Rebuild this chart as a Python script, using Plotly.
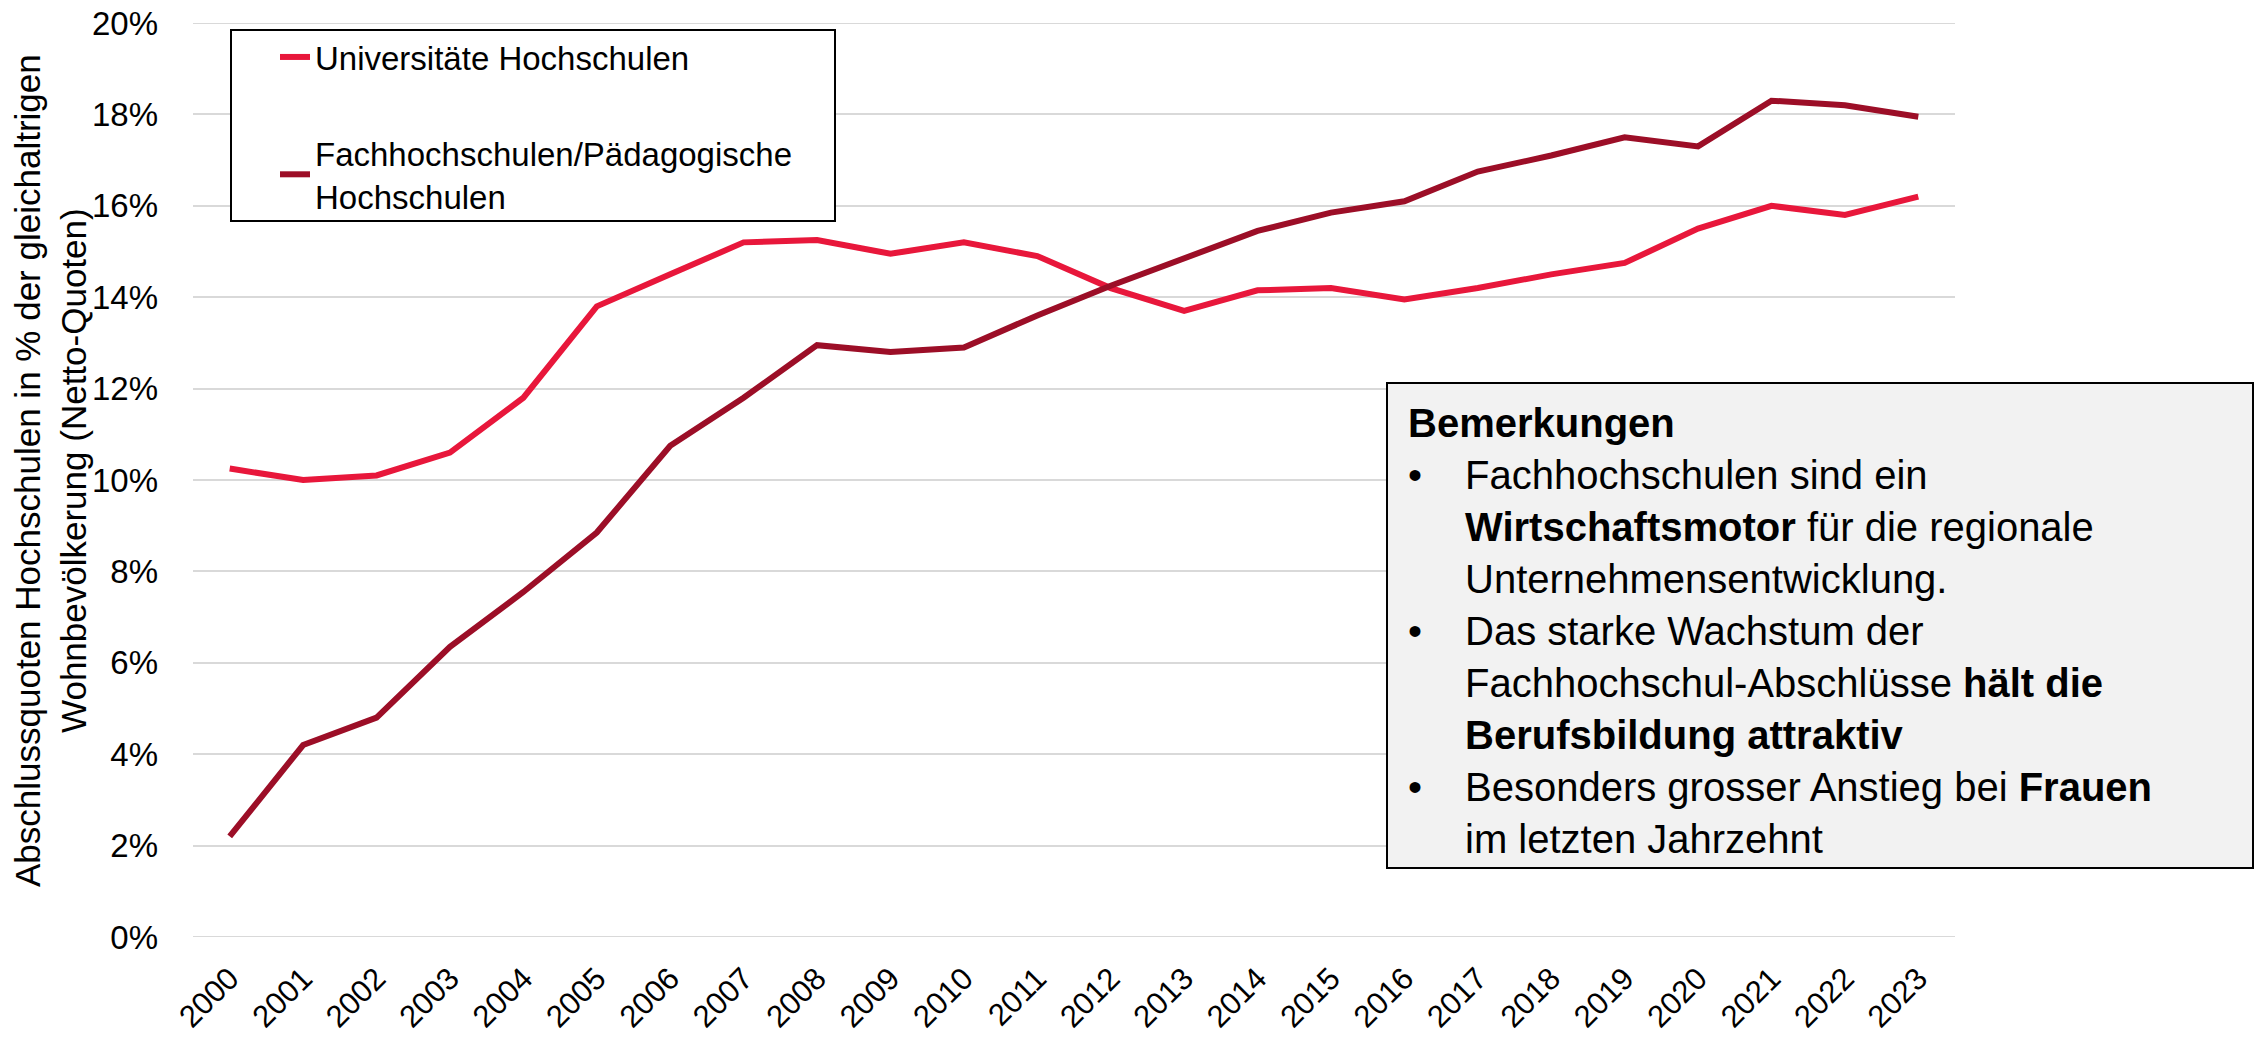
import plotly.graph_objects as go

years = [str(y) for y in range(2000, 2024)]
uni = [10.25, 10.0, 10.1, 10.6, 11.8, 13.8, 14.5, 15.2, 15.25, 14.95, 15.2, 14.9,
       14.2, 13.7, 14.15, 14.2, 13.95, 14.2, 14.5, 14.75, 15.5, 16.0, 15.8, 16.2]
fh = [2.2, 4.2, 4.8, 6.35, 7.55, 8.85, 10.75, 11.8, 12.95, 12.8, 12.9, 13.6,
      14.25, 14.85, 15.45, 15.85, 16.1, 16.75, 17.1, 17.5, 17.3, 18.3, 18.2, 17.95]
series_names = ["Universitäte Hochschulen", "Fachhochschulen/Pädagogische<br>Hochschulen"]
y_title = "Abschlussquoten Hochschulen in % der gleichaltrigen<br>Wohnbevölkerung (Netto-Quoten)"
y_min, y_max = 0.0, 0.2
NB = "\u00a0"
note_lines = [
    NB,
    "Fachhochschulen sind ein",
    "<b>Wirtschaftsmotor</b> für die regionale",
    "Unternehmensentwicklung.",
    "Das starke Wachstum der",
    "Fachhochschul-Abschlüsse <b>hält die</b>",
    "<b>Berufsbildung attraktiv</b>",
    "Besonders grosser Anstieg bei <b>Frauen</b>",
    "im letzten Jahrzehnt",
]
bullet_lines = ["<b>Bemerkungen</b>", "•", NB, NB, "•", NB, NB, "•", NB]

W, H = 2264, 1038
L, R, T, B = 193, 1955, 23, 937


def px(x):
    return (x - L) / (R - L)


def py(y):
    return 1 - (y - T) / (B - T)


FONT = "Liberation Sans, Arial, sans-serif"
GRID = "#d9d9d9"

fig = go.Figure()
fig.add_trace(go.Scatter(x=years, y=[v / 100 for v in uni], mode="lines",
                         name=series_names[0], legendgroup="a",
                         line=dict(color="#e8173b", width=6)))
fig.add_trace(go.Scatter(x=years, y=[v / 100 for v in fh], mode="lines",
                         name=series_names[1], legendgroup="b",
                         line=dict(color="#9c0e27", width=6)))

fig.update_layout(
    width=W, height=H,
    margin=dict(l=L, r=W - R, t=T, b=H - B, pad=0, autoexpand=False),
    paper_bgcolor="white", plot_bgcolor="white",
    font=dict(family=FONT, color="black"),
    showlegend=True,
    legend=dict(x=px(275), y=py(29), xanchor="left", yanchor="top",
                bgcolor="rgba(0,0,0,0)", borderwidth=0,
                font=dict(size=33, family=FONT), tracegroupgap=50,
                traceorder="grouped"),
)
fig.update_xaxes(type="category", range=[-0.5, 23.5], showgrid=False,
                 showline=False, ticks="", tickangle=-45, automargin=False,
                 tickfont=dict(size=31, family=FONT), ticklabelstandoff=16)
fig.update_yaxes(range=[y_min, y_max], dtick=0.02, tickformat=".0%",
                 showgrid=True, gridcolor=GRID, gridwidth=2, automargin=False,
                 zeroline=False, showline=False, ticks="",
                 tickfont=dict(size=33, family=FONT), ticklabelstandoff=34)

# gridlines at the range edges (plotly omits them)
for v in (y_min, y_max):
    fig.add_shape(type="line", xref="paper", yref="y", x0=0, x1=1, y0=v, y1=v,
                  line=dict(color=GRID, width=2), layer="below")

# y-axis title
fig.add_annotation(xref="paper", yref="paper", x=px(51), y=py(471),
                   xanchor="center", yanchor="middle", showarrow=False,
                   textangle=-90, text=y_title, font=dict(size=35, family=FONT))

# legend frame
fig.add_shape(type="rect", xref="paper", yref="paper",
              x0=px(231), x1=px(835), y0=py(221), y1=py(30),
              fillcolor="white", line=dict(color="black", width=2), layer="above")

# notes box
fig.add_shape(type="rect", xref="paper", yref="paper",
              x0=px(1387), x1=px(2253), y0=py(868), y1=py(383),
              fillcolor="#f2f2f2", line=dict(color="black", width=2), layer="above")
ymid = py(631)
fig.add_annotation(xref="paper", yref="paper", x=px(1406), y=ymid,
                   xanchor="left", yanchor="middle", align="left", showarrow=False,
                   text="<br>".join(bullet_lines), font=dict(size=40, family=FONT))
fig.add_annotation(xref="paper", yref="paper", x=px(1463), y=ymid,
                   xanchor="left", yanchor="middle", align="left", showarrow=False,
                   text="<br>".join(note_lines), font=dict(size=40, family=FONT))

fig.write_html("out.html", config={"displayModeBar": False},
               post_script="document.body.style.margin='0';document.body.style.padding='0';")
